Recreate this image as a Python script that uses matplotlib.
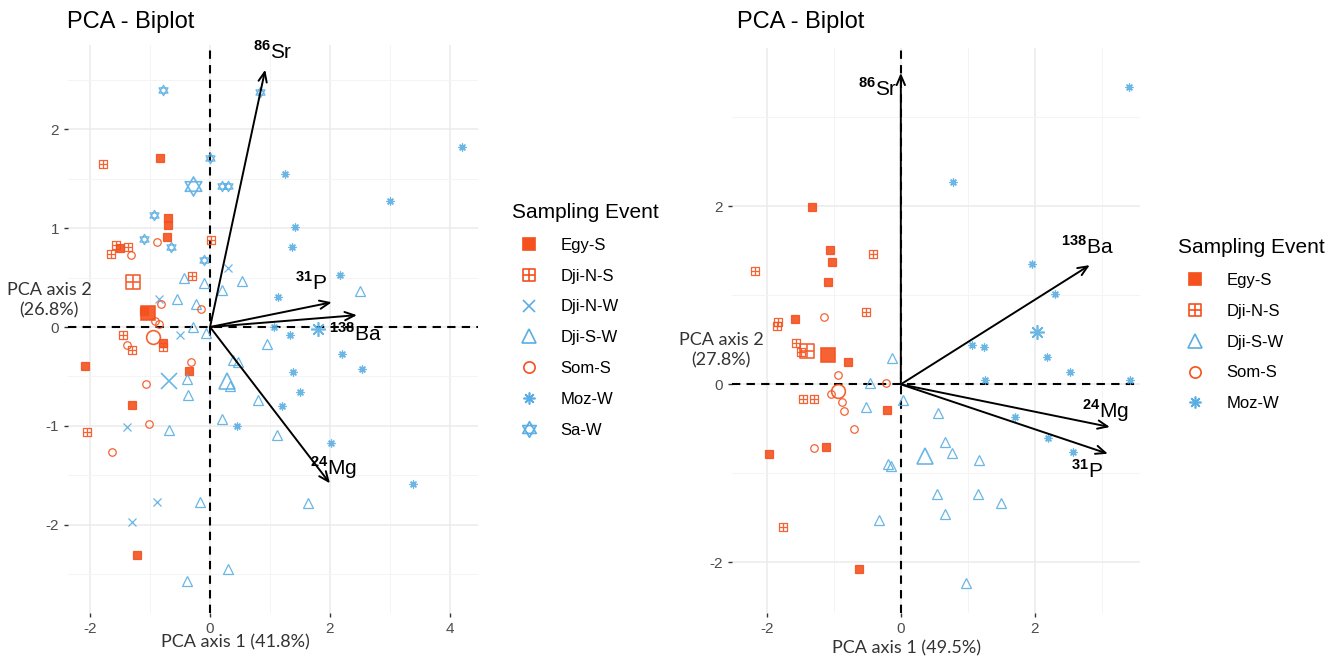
import matplotlib
matplotlib.use('Agg')
import matplotlib.pyplot as plt
from matplotlib.path import Path
from matplotlib.lines import Line2D

plt.rcParams['font.family'] = ['Liberation Sans', 'DejaVu Sans']
plt.rcParams['mathtext.fontset'] = 'custom'
plt.rcParams['mathtext.rm'] = 'Liberation Sans'
plt.rcParams['mathtext.bf'] = 'Liberation Sans:bold'
plt.rcParams['axes.unicode_minus'] = False

ORANGE = '#F4511E'
BLUE = '#5AAEE3'

# ---- left panel data (PC1, PC2) ----
left_groups = ['Egy-S', 'Dji-N-S', 'Dji-N-W', 'Dji-S-W', 'Som-S', 'Moz-W', 'Sa-W']
left_x = {
    'Egy-S':   [-0.83, -0.70, -0.70, -0.72, -1.50, -0.78, -2.08, -0.35, -1.30, -1.22, -1.10],
    'Dji-N-S': [-1.78, 0.02, -1.57, -1.37, -1.65, -0.30, -1.45, -0.78, -1.30, -2.05],
    'Dji-N-W': [0.30, -0.85, -0.50, -1.38, -0.88, -1.30],
    'Dji-S-W': [-0.43, -0.10, 0.53, 0.20, 2.50, -0.55, -0.23, -0.28, -0.07, 0.95, 0.38, 0.47,
                0.33, -0.38, -0.37, 0.80, 0.20, -0.68, 1.12, -0.17, 1.63, 0.30, -0.38],
    'Som-S':   [-0.88, -1.32, -0.82, -0.15, -0.92, -0.85, -1.38, -0.32, -1.07, -1.02, -1.63],
    'Moz-W':   [1.25, 4.20, 3.00, 1.42, 1.36, 2.17, 1.13, 1.07, 1.33, 2.20, 2.53, 1.38, 1.50,
                1.20, 0.45, 2.02, 3.39],
    'Sa-W':    [-0.78, 0.83, 0.00, 0.20, 0.30, -0.93, -1.10, -0.65, -0.10],
}
left_y = {
    'Egy-S':   [1.71, 1.10, 1.03, 0.91, 0.80, -0.16, -0.39, -0.44, -0.79, -2.30, 0.16],
    'Dji-N-S': [1.65, 0.88, 0.83, 0.81, 0.74, 0.52, -0.08, -0.20, -0.23, -1.06],
    'Dji-N-W': [0.60, 0.28, -0.08, -1.01, -1.77, -1.97],
    'Dji-S-W': [0.50, 0.44, 0.47, 0.37, 0.36, 0.28, 0.23, 0.00, -0.06, -0.17, -0.33, -0.35,
                -0.60, -0.53, -0.69, -0.74, -0.93, -1.04, -1.09, -1.77, -1.78, -2.45, -2.57],
    'Som-S':   [0.86, 0.73, 0.23, 0.18, 0.06, 0.03, -0.18, -0.35, -0.58, -0.98, -1.26],
    'Moz-W':   [1.55, 1.82, 1.27, 1.01, 0.81, 0.53, 0.30, 0.00, -0.08, -0.27, -0.42, -0.45,
                -0.66, -0.80, -1.00, -1.17, -1.59],
    'Sa-W':    [2.40, 2.38, 1.71, 1.43, 1.43, 1.13, 0.89, 0.81, 0.68],
}
left_centroids = {
    'Egy-S': (-1.03, 0.14), 'Dji-N-S': (-1.28, 0.45), 'Dji-N-W': (-0.68, -0.55),
    'Dji-S-W': (0.28, -0.55), 'Som-S': (-0.95, -0.10), 'Moz-W': (1.80, -0.02),
    'Sa-W': (-0.28, 1.43),
}
left_vars = ['86Sr', '31P', '138Ba', '24Mg']
left_load_x = [0.92, 2.03, 2.45, 2.00]
left_load_y = [2.60, 0.25, 0.12, -1.58]

# ---- right panel data ----
right_groups = ['Egy-S', 'Dji-N-S', 'Dji-S-W', 'Som-S', 'Moz-W']
right_x = {
    'Egy-S':   [-1.33, -1.05, -1.02, -1.09, -1.58, -0.79, -0.21, -1.12, -1.97, -0.63],
    'Dji-N-S': [-0.42, -2.18, -0.52, -1.84, -1.85, -1.56, -1.49, -1.46, -1.30, -1.76],
    'Dji-S-W': [-0.13, -0.46, 0.03, -0.52, 0.55, 0.66, 0.76, 1.16, -0.19, -0.14, 0.54, 1.15,
                1.49, 0.66, -0.33, 0.98],
    'Som-S':   [-1.15, -0.94, -0.22, -1.04, -0.88, -0.85, -0.70, -1.30],
    'Moz-W':   [3.40, 0.78, 1.96, 2.30, 1.06, 1.24, 2.18, 2.52, 1.25, 3.42, 1.70, 2.20, 2.57],
}
right_y = {
    'Egy-S':   [1.99, 1.51, 1.38, 1.15, 0.73, 0.25, -0.29, -0.70, -0.78, -2.07],
    'Dji-N-S': [1.47, 1.27, 0.81, 0.70, 0.65, 0.47, 0.36, -0.17, -0.17, -1.60],
    'Dji-S-W': [0.30, 0.02, -0.18, -0.26, -0.32, -0.65, -0.77, -0.85, -0.89, -0.92, -1.23, -1.23,
                -1.33, -1.46, -1.52, -2.23],
    'Som-S':   [0.76, 0.10, 0.02, -0.11, -0.20, -0.30, -0.50, -0.71],
    'Moz-W':   [3.34, 2.27, 1.35, 1.02, 0.44, 0.42, 0.31, 0.14, 0.05, 0.05, -0.37, -0.60, -0.76],
}
right_centroids = {
    'Egy-S': (-1.09, 0.33), 'Dji-N-S': (-1.40, 0.37), 'Dji-S-W': (0.36, -0.80),
    'Som-S': (-0.94, -0.07), 'Moz-W': (2.03, 0.59),
}
right_vars = ['86Sr', '138Ba', '24Mg', '31P']
right_load_x = [0.00, 2.82, 3.12, 3.09]
right_load_y = [3.50, 1.34, -0.48, -0.78]

# ---- marker shapes (ggplot-like) ----
square_plus = Path(
    [(-1, -1), (1, -1), (1, 1), (-1, 1), (-1, -1), (-1, 0), (1, 0), (0, -1), (0, 1)],
    [Path.MOVETO, Path.LINETO, Path.LINETO, Path.LINETO, Path.CLOSEPOLY,
     Path.MOVETO, Path.LINETO, Path.MOVETO, Path.LINETO])
star_david = Path(
    [(0, 1), (-0.866, -0.5), (0.866, -0.5), (0, 1),
     (0, -1), (-0.866, 0.5), (0.866, 0.5), (0, -1)],
    [Path.MOVETO, Path.LINETO, Path.LINETO, Path.CLOSEPOLY,
     Path.MOVETO, Path.LINETO, Path.LINETO, Path.CLOSEPOLY])

style = {
    'Egy-S':   dict(marker='s', color=ORANGE, filled=True, scale=0.9),
    'Dji-N-S': dict(marker=square_plus, color=ORANGE, filled=False, scale=0.9),
    'Dji-N-W': dict(marker='x', color=BLUE, filled=False, scale=1.0),
    'Dji-S-W': dict(marker='^', color=BLUE, filled=False, scale=1.1),
    'Som-S':   dict(marker='o', color=ORANGE, filled=False, scale=0.9),
    'Moz-W':   dict(marker=(8, 2, 0), color=BLUE, filled=False, scale=0.95),
    'Sa-W':    dict(marker=star_david, color=BLUE, filled=False, scale=1.25),
}


def draw_group(ax, xs, ys, st, ms, lw=0.9):
    mfc = st['color'] if st['filled'] else 'none'
    ax.plot(xs, ys, linestyle='none', marker=st['marker'], markersize=ms * st['scale'],
            mfc=mfc, mec=st['color'], mew=lw, alpha=0.9, zorder=3)


def var_label(name):
    num = ''.join(c for c in name if c.isdigit())
    el = ''.join(c for c in name if not c.isdigit())
    return r'$^{\mathbf{' + num + '}}$' + el


def style_axes(ax, xlim, ylim, xticks, yticks):
    ax.set_xticks(xticks)
    ax.set_yticks(yticks)
    xstep = xticks[1] - xticks[0]
    ystep = yticks[1] - yticks[0]
    ax.set_xticks([t - xstep / 2 for t in xticks] + [xticks[-1] + xstep / 2], minor=True)
    ax.set_yticks([t - ystep / 2 for t in yticks] + [yticks[-1] + ystep / 2], minor=True)
    ax.set_xlim(xlim)
    ax.set_ylim(ylim)
    ax.grid(which='major', color='#EBEBEB', lw=1.1, zorder=0)
    ax.grid(which='minor', color='#F4F4F4', lw=0.7, zorder=0)
    for s in ax.spines.values():
        s.set_visible(False)
    ax.tick_params(which='major', length=3, width=1, color='#333333',
                   labelcolor='#4D4D4D', labelsize=11)
    ax.tick_params(which='minor', length=0)
    ax.axhline(0, color='black', ls=(0, (4, 3)), lw=1.5, zorder=2)
    ax.axvline(0, color='black', ls=(0, (4, 3)), lw=1.5, zorder=2)


def draw_arrows(ax, lx, ly, names, label_pos):
    for x, y, n in zip(lx, ly, names):
        ax.annotate('', xy=(x, y), xytext=(0, 0), zorder=5,
                    arrowprops=dict(arrowstyle='->,head_length=0.7,head_width=0.3',
                                    color='black', lw=1.4, shrinkA=0, shrinkB=0))
        tx, ty = label_pos[n]
        ax.text(tx, ty, var_label(n), fontsize=15, ha='center', va='center', zorder=6)


fig = plt.figure(figsize=(13.38, 6.58), dpi=100)
W, H = 1338.0, 658.0

# left panel
ax1 = fig.add_axes([68 / W, 1 - 613 / H, 410 / W, 568 / H])
style_axes(ax1, (-2.37, 4.47), (-2.89, 2.85), [-2, 0, 2, 4], [-2, -1, 0, 1, 2])
for g in left_groups:
    draw_group(ax1, left_x[g], left_y[g], style[g], 6)
    cx, cy = left_centroids[g]
    draw_group(ax1, [cx], [cy], style[g], 11, lw=1.2)
draw_arrows(ax1, left_load_x, left_load_y, left_vars,
            {'86Sr': (1.05, 2.78), '31P': (1.68, 0.45), '138Ba': (2.42, -0.07), '24Mg': (2.05, -1.42)})

# right panel
ax2 = fig.add_axes([732 / W, 1 - 613 / H, 408 / W, 565 / H])
style_axes(ax2, (-2.52, 3.57), (-2.57, 3.78), [-2, 0, 2], [-2, 0, 2])
for g in right_groups:
    draw_group(ax2, right_x[g], right_y[g], style[g], 6)
    cx, cy = right_centroids[g]
    draw_group(ax2, [cx], [cy], style[g], 11, lw=1.2)
draw_arrows(ax2, right_load_x, right_load_y, right_vars,
            {'86Sr': (-0.35, 3.32), '138Ba': (2.78, 1.55), '24Mg': (3.05, -0.30), '31P': (2.78, -0.97)})

# titles and axis labels
fig.text(67 / W, 1 - 22 / H, 'PCA - Biplot', fontsize=17, ha='left', va='center')
fig.text(737 / W, 1 - 22 / H, 'PCA - Biplot', fontsize=17, ha='left', va='center')
lab_font = ['Lato', 'DejaVu Sans']
fig.text(49 / W, 1 - 300 / H, 'PCA axis 2\n(26.8%)', fontsize=13, ha='center', va='center',
         family=lab_font, color='#333333', linespacing=1.3)
fig.text(721 / W, 1 - 350 / H, 'PCA axis 2\n(27.8%)', fontsize=13, ha='center', va='center',
         family=lab_font, color='#333333', linespacing=1.3)
fig.text(235 / W, 1 - 642 / H, 'PCA axis 1 (41.8%)', fontsize=13, ha='center', va='center',
         family=lab_font, color='#333333')
fig.text(907 / W, 1 - 648 / H, 'PCA axis 1 (49.5%)', fontsize=13, ha='center', va='center',
         family=lab_font, color='#333333')


def legend_handles(groups):
    hs = []
    for g in groups:
        st = style[g]
        hs.append(Line2D([], [], linestyle='none', marker=st['marker'],
                         markersize=9 * st['scale'],
                         mfc=st['color'] if st['filled'] else 'none',
                         mec=st['color'], mew=1.2))
    return hs


leg1 = fig.legend(legend_handles(left_groups), left_groups, loc='upper left',
                  bbox_to_anchor=(497 / W, 1 - 188 / H), frameon=False,
                  title='Sampling Event', title_fontsize=15, fontsize=12,
                  labelspacing=0.95, handletextpad=0.9, alignment='left')
leg2 = fig.legend(legend_handles(right_groups), right_groups, loc='upper left',
                  bbox_to_anchor=(1163 / W, 1 - 223 / H), frameon=False,
                  title='Sampling Event', title_fontsize=15, fontsize=12,
                  labelspacing=0.95, handletextpad=0.9, alignment='left')

fig.savefig('out.png', dpi=100, facecolor='white')
